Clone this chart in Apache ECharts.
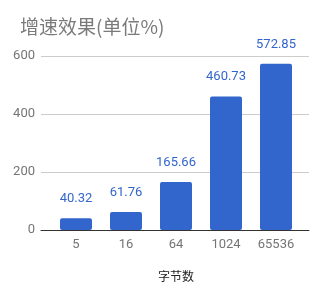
<!DOCTYPE html>
<html><head><meta charset="utf-8">
<script src="https://cdn.jsdelivr.net/npm/echarts@6/dist/echarts.min.js"></script>
<style>html,body{margin:0;padding:0;background:#fff}#c{width:324px;height:299px}</style>
</head><body><div id="c"></div>
<script>
const categories = ['5', '16', '64', '1024', '65536'];
const values = [40.32, 61.76, 165.66, 460.73, 572.85];
const yTicks = [0, 200, 400, 600];
const titleText = '增速效果(单位%)';
const xName = '字节数';

const chart = echarts.init(document.getElementById('c'));
const yMin = yTicks[0], yMax = yTicks[yTicks.length - 1], yStep = yTicks[1] - yTicks[0];
chart.setOption({
  animation: false,
  title: {text: titleText, left: 15, top: 12,
    textStyle: {fontSize: 19, fontWeight: 'normal', color: '#7a7a7a', fontFamily: 'Noto Sans CJK SC'}},
  grid: [
    {left: 41, right: 15, top: 56, bottom: 69},
    {left: 51, right: 23, top: 56, bottom: 69}
  ],
  xAxis: [
    {gridIndex: 0, type: 'category', data: categories, axisLine: {lineStyle: {color: '#333', width: 1}},
     axisTick: {show: false}, axisLabel: {show: false}, z: 5},
    {gridIndex: 1, type: 'category', data: categories, axisLine: {show: false}, axisTick: {show: false},
     axisLabel: {color: '#757575', fontSize: 13, fontFamily: 'Roboto', margin: 8},
     name: xName, nameLocation: 'middle', nameGap: 40,
     nameTextStyle: {color: '#222', fontSize: 12, fontFamily: 'Noto Sans CJK SC'}}
  ],
  yAxis: [
    {gridIndex: 0, type: 'value', min: yMin, max: yMax, interval: yStep,
     axisLine: {show: false}, axisTick: {show: false},
     axisLabel: {color: '#757575', fontSize: 13, fontFamily: 'Roboto', margin: 6},
     splitLine: {lineStyle: {color: '#cccccc'}}},
    {gridIndex: 1, type: 'value', min: yMin, max: yMax, interval: yStep, show: false,
     splitLine: {show: false}}
  ],
  series: [{
    type: 'bar', xAxisIndex: 1, yAxisIndex: 1, data: values, barWidth: 32,
    itemStyle: {color: '#3366cc', borderRadius: 2},
    label: {show: true, position: 'top', distance: 13, color: '#3366cc', fontSize: 13, fontFamily: 'Roboto'}
  }]
});
</script></body></html>
